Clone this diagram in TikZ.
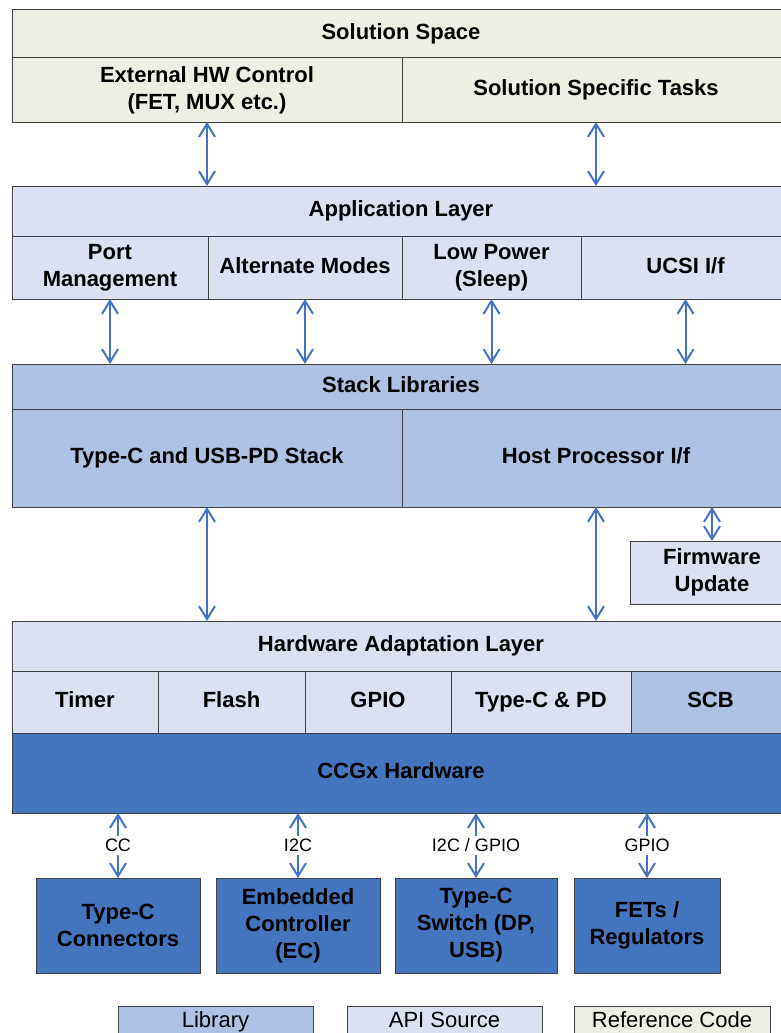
\documentclass[tikz,border=0pt]{standalone}
\usepackage{fontspec}
\setmainfont{Liberation Sans}
\usetikzlibrary{arrows.meta}

\definecolor{refcream}{RGB}{238,239,227}
\definecolor{apiblue}{RGB}{219,225,241}
\definecolor{libblue}{RGB}{174,194,227}
\definecolor{hwblue}{RGB}{68,117,191}
\definecolor{linkblue}{RGB}{68,114,196}
\definecolor{edgegray}{RGB}{64,64,64}

\begin{document}
\begin{tikzpicture}
[x=1pt, y=-1pt,
every node/.style={inner sep=0pt, outer sep=0pt, anchor=north west, align=center},
box/.style 2 args={minimum width=#1, minimum height=#2},
oneline/.style={text height=16pt, text depth=5pt},
cell/.style={draw=edgegray, line width=1pt, font=\bfseries\fontsize{22}{27}\selectfont},
ref/.style={cell, fill=refcream},
api/.style={cell, fill=apiblue},
lib/.style={cell, fill=libblue},
hw/.style={cell, fill=hwblue},
legend/.style={draw=edgegray, line width=1pt, oneline, box={195pt}{31pt}, font=\fontsize{22}{27}\selectfont},
link/.style={draw=linkblue, line width=2pt,
  {Straight Barb[length=13pt,width=16pt]}-{Straight Barb[length=13pt,width=16pt]}},
bus/.style={fill=white, inner sep=3pt, anchor=center, font=\fontsize{18}{22}\selectfont}]

\useasboundingbox (0,0) rectangle (781,1033);
\clip (0,0) rectangle (781,1033);

\begin{scope}
\node[ref, oneline, box={778pt}{48pt}] (sol) at (12,10) {Solution Space};
\node[ref, box={390pt}{64pt}] (ext) at (12,58) {External HW Control\\(FET, MUX etc.)};
\node[ref, oneline, box={388pt}{64pt}] (tasks) at (402,58) {Solution Specific Tasks};
\end{scope}

\begin{scope}
\node[api, oneline, box={778pt}{50pt}] (app) at (12,186) {Application Layer};
\node[api, box={196pt}{63pt}] (port) at (12,236) {Port\\Management};
\node[api, oneline, box={194pt}{63pt}] (altm) at (208,236) {Alternate Modes};
\node[api, box={179pt}{63pt}] (lowp) at (402,236) {Low Power\\(Sleep)};
\node[api, oneline, box={209pt}{63pt}] (ucsi) at (581,236) {UCSI I/f};
\end{scope}

\begin{scope}
\node[lib, oneline, box={778pt}{45pt}] (stack) at (12,364) {Stack Libraries};
\node[lib, oneline, box={390pt}{98pt}] (pdstack) at (12,409) {Type-C and USB-PD Stack};
\node[lib, oneline, box={388pt}{98pt}] (host) at (402,409) {Host Processor I/f};
\node[api, box={164pt}{63pt}] (fwup) at (630,541) {Firmware\\Update};
\end{scope}

\begin{scope}
\node[api, oneline, box={778pt}{50pt}] (hal) at (12,621) {Hardware Adaptation Layer};
\node[api, oneline, box={146pt}{62pt}] (timer) at (12,671) {Timer};
\node[api, oneline, box={147pt}{62pt}] (flash) at (158,671) {Flash};
\node[api, oneline, box={146pt}{62pt}] (gpio) at (305,671) {GPIO};
\node[api, oneline, box={180pt}{62pt}] (tcpd) at (451,671) {Type-C \& PD};
\node[lib, oneline, box={159pt}{62pt}] (scb) at (631,671) {SCB};
\node[hw, oneline, box={778pt}{80pt}] (ccgx) at (12,733) {CCGx Hardware};
\end{scope}

\begin{scope}
\node[hw, box={164pt}{95pt}] (conn) at (36,878) {Type-C\\Connectors};
\node[hw, box={164pt}{95pt}] (ec) at (216,878) {Embedded\\Controller\\(EC)};
\node[hw, box={162pt}{95pt}] (sw) at (395,878) {Type-C\\Switch (DP,\\USB)};
\node[hw, box={146pt}{95pt}] (fets) at (574,878) {FETs /\\Regulators};
\end{scope}

\node[legend, fill=libblue] (leglib) at (118,1006) {Library};
\node[legend, fill=apiblue] (legapi) at (347,1006) {API Source};
\node[legend, fill=refcream, box={196pt}{31pt}] (legref) at (574,1006) {Reference Code};

\foreach \c in {ext,tasks}
  \draw[link] (\c.south) -- (\c.south |- app.north);
\foreach \c in {port,altm,lowp,ucsi}
  \draw[link] (\c.south) -- (\c.south |- stack.north);
\foreach \c in {pdstack,host}
  \draw[link] (\c.south) -- (\c.south |- hal.north);
\draw[link] (fwup.north |- host.south) -- (fwup.north);
\foreach \c/\t in {conn/CC, ec/I2C, sw/{I2C / GPIO}, fets/GPIO}
  \draw[link] (\c.north |- ccgx.south) -- node[bus]{\t} (\c.north);
\end{tikzpicture}
\end{document}
